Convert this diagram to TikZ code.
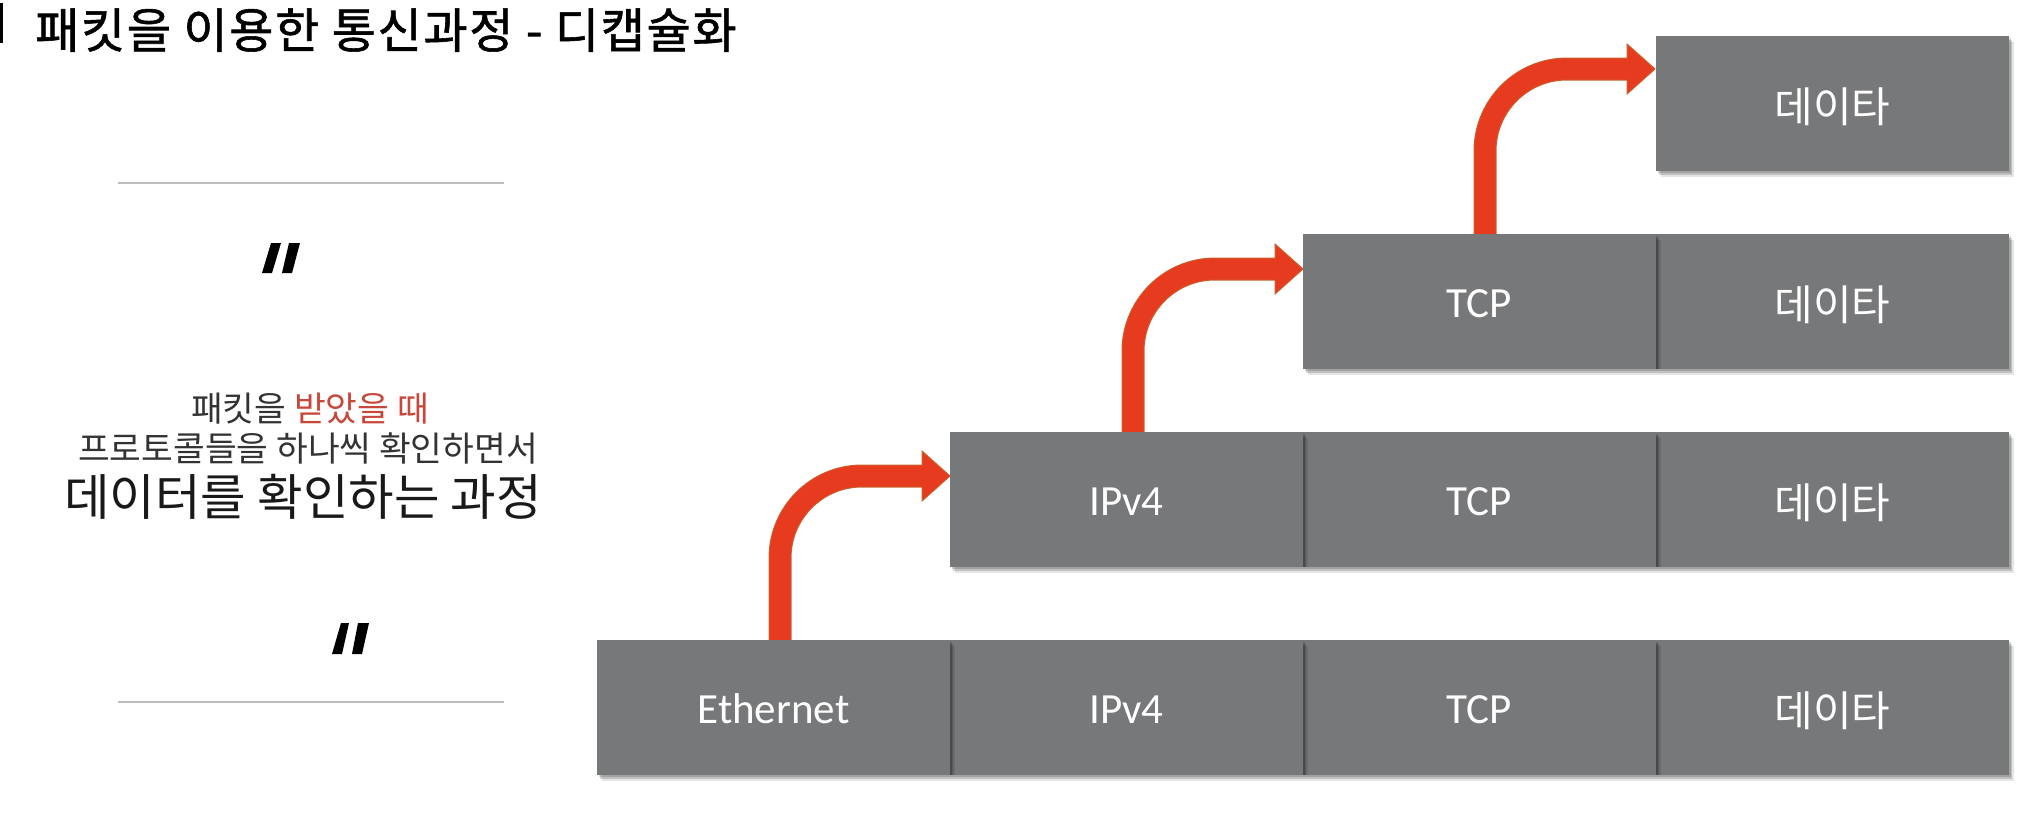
\documentclass[tikz,border=0pt]{standalone}
\usepackage{fontspec}
\usetikzlibrary{shadows}
\newfontfamily\krfont{Noto Sans CJK KR}
\newfontfamily\krtitle[FakeBold=1.2,LetterSpace=3.5]{Noto Sans CJK KR}
\newfontfamily\latfont{Carlito}

\definecolor{cellgray}{HTML}{77787A}
\definecolor{arrowfill}{HTML}{E73B1F}
\definecolor{arrowedge}{HTML}{C8612C}
\definecolor{rulegray}{HTML}{BDBDBD}
\definecolor{accent}{HTML}{C8473B}
\definecolor{bodytext}{HTML}{333333}

\tikzset{
  cell/.style={fill=cellgray, minimum width=353pt, minimum height=135pt,
    inner sep=0pt, text=white, text depth=0pt,
    drop shadow={shadow xshift=1.5pt, shadow yshift=-2pt, opacity=0.16, fill=black},
    drop shadow={shadow xshift=3pt, shadow yshift=-4pt, opacity=0.16, fill=black},
    drop shadow={shadow xshift=5pt, shadow yshift=-6pt, opacity=0.10, fill=black}},
  latcell/.style={cell, font=\latfont\fontsize{43}{50}\selectfont, text height=31pt},
  krcell/.style={cell, font=\krfont\fontsize{42}{48}\selectfont, text height=37pt},
  stemout/.style={draw=arrowedge, line width=23pt, rounded corners=82pt},
  stemin/.style={draw=arrowfill, line width=21pt, rounded corners=82pt},
  headtri/.style={fill=arrowfill, draw=arrowedge, line width=1pt, line join=miter},
  rule/.style={draw=rulegray, line width=2pt},
  quotemark/.style={fill=black},
}

\begin{document}
\begin{tikzpicture}[x=1pt, y=-1pt]
\path[use as bounding box] (0,0) rectangle (2036,814);

% title with its side bar
\fill[black] (0,3) rectangle (2.5,43);
\node[anchor=base west, inner sep=0pt] (title) at (35,48)
  {\krtitle\fontsize{48}{55}\selectfont 패킷을 이용한 통신과정 - 디캡슐화};

% quotation block on the left
\draw[rule] (118,183) -- (504,183);
\draw[rule] (118,702) -- (504,702);
\fill[quotemark] (271,243) -- (281,243) -- (272,273) -- (262,273) -- cycle;
\fill[quotemark] (289,243) -- (300,243) -- (292,273) -- (282,273) -- cycle;
\fill[quotemark] (341,623) -- (349,623) -- (342,654) -- (332,654) -- cycle;
\fill[quotemark] (358,623) -- (369,623) -- (362,654) -- (352,654) -- cycle;

\node[anchor=base, inner sep=0pt] (q1) at (310,421)
  {\krfont\fontsize{34.5}{40}\selectfont\color{bodytext}패킷을 \textcolor{accent}{받았을 때}};
\node[anchor=base, inner sep=0pt] (q2) at (308,461)
  {\krfont\fontsize{34.5}{40}\selectfont\color{bodytext}프로토콜들을 하나씩 확인하면서};
\node[anchor=base, inner sep=0pt] (q3) at (303,515)
  {\krfont\fontsize{49.5}{56}\selectfont\color{black!90}데이터를 확인하는 과정};

% arrows climbing from one layer to the next
\coordinate (a1s) at (780,641);  \coordinate (a1b) at (923,476);
\coordinate (a2s) at (1133,433); \coordinate (a2b) at (1276,269);
\coordinate (a3s) at (1485,235); \coordinate (a3b) at (1628,69);

\draw[stemout] (a1s) |- (a1b);
\draw[stemout] (a2s) |- (a2b);
\draw[stemout] (a3s) |- (a3b);
\filldraw[headtri] (922,451) -- (950,476) -- (922,501) -- cycle;
\filldraw[headtri] (1275,244) -- (1303,269) -- (1275,294) -- cycle;
\filldraw[headtri] (1627,44) -- (1655,69) -- (1627,94) -- cycle;
\draw[stemin] (a1s) |- (a1b);
\draw[stemin] (a2s) |- (a2b);
\draw[stemin] (a3s) |- (a3b);

% packet layers, right cell first so each left neighbour casts its shadow
\node[krcell]  (r1c4) at (1832.5,707.5) {데이타};
\node[latcell] (r1c3) at (1479.5,707.5) {TCP};
\node[latcell] (r1c2) at (1126.5,707.5) {IPv4};
\node[latcell] (r1c1) at (773.5,707.5)  {Ethernet};

\node[krcell]  (r2c4) at (1832.5,499.5) {데이타};
\node[latcell] (r2c3) at (1479.5,499.5) {TCP};
\node[latcell] (r2c2) at (1126.5,499.5) {IPv4};

\node[krcell]  (r3c4) at (1832.5,301.5) {데이타};
\node[latcell] (r3c3) at (1479.5,301.5) {TCP};

\node[krcell]  (r4c4) at (1832.5,103.5) {데이타};
\end{tikzpicture}
\end{document}
